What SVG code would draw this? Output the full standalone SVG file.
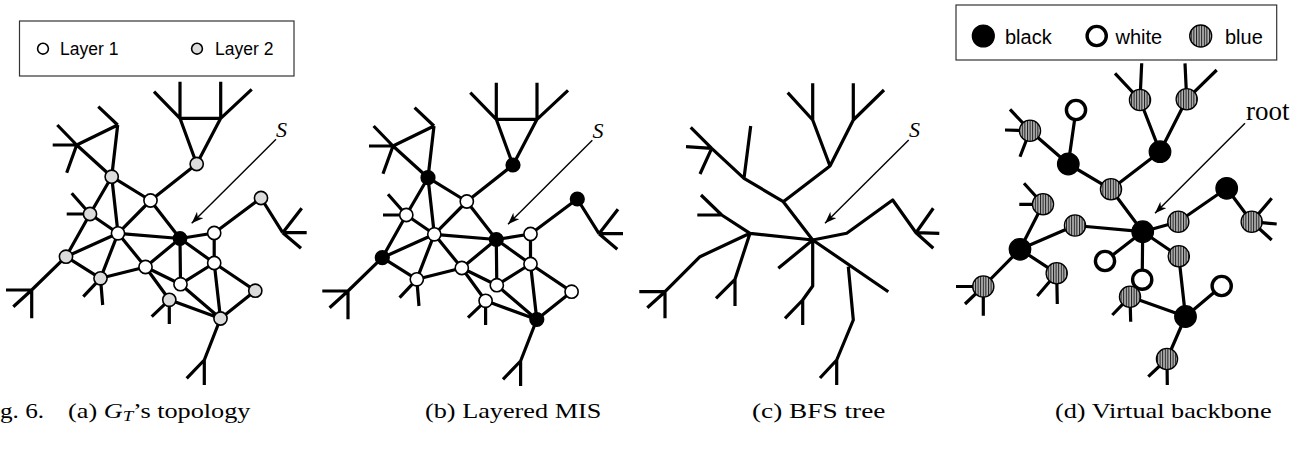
<svg xmlns="http://www.w3.org/2000/svg" width="1311" height="452" viewBox="0 0 1311 452">
<style>
.e{fill:none;stroke:#000;stroke-width:3.2;stroke-linejoin:round;stroke-linecap:butt}
.arr{fill:none;stroke:#000;stroke-width:1.4}
.w{fill:#fff;stroke:#000;stroke-width:1.6}
.g{fill:#dcdcdc;stroke:#000;stroke-width:1.6}
.k{fill:#000;stroke:#000;stroke-width:1.6}
.dk{fill:#000;stroke:#000;stroke-width:1.2}
.dw{fill:#fff;stroke:#000;stroke-width:3.4}
.db{fill:url(#stripes);stroke:#000;stroke-width:1.3}
.lg{fill:#fff;stroke:#333;stroke-width:1.2}
.ls{font-family:"Liberation Sans",Arial,sans-serif;fill:#000}
.cap{font-family:"Liberation Serif","Times New Roman",serif;font-size:21px;fill:#000}
.lab{font-family:"Liberation Serif","Times New Roman",serif;fill:#000}
</style>
<defs>
<pattern id="stripes" patternUnits="userSpaceOnUse" width="2.6" height="10">
<rect width="2.6" height="10" fill="#b4b4b4"/>
<rect width="1" height="10" fill="#1a1a1a"/>
</pattern>
<marker id="ah" markerUnits="userSpaceOnUse" markerWidth="14" markerHeight="10" refX="12" refY="4.5" orient="auto">
<path d="M0,0 L12,4.5 L0,9 L3.5,4.5 Z" fill="#000"/>
</marker>
</defs>
<rect width="1311" height="452" fill="#fff"/>

<!-- Panel (a) -->
<g id="legend-a">
<rect class="lg" x="19.5" y="21" width="274.5" height="55"/>
<circle class="w" cx="43" cy="48.7" r="5.4" stroke-width="2"/>
<text class="ls" x="60" y="55" font-size="17.5">Layer 1</text>
<circle class="g" cx="197" cy="48.7" r="5.4" stroke-width="2"/>
<text class="ls" x="215" y="55" font-size="17.5">Layer 2</text>
</g>
<g id="connectors-a">
<path class="e" d="M196.7,164 L150.5,200.5 M150.5,200.5 L111.7,176.7 M150.5,200.5 L118,233.3 M150.5,200.5 L180,238.5 M111.7,176.7 L118,233.3 M111.7,176.7 L90,214 M111.7,176.7 L76.7,145 M111.7,176.7 L117.7,125 M90,214 L118,233.3 M90,214 L66,256.7 M118,233.3 L66,256.7 M118,233.3 L100.5,278.3 M118,233.3 L145.5,267 M118,233.3 L180,238.5 M66,256.7 L100.5,278.3 M100.5,278.3 L145.5,267 M145.5,267 L180,238.5 M145.5,267 L180.5,284.2 M145.5,267 L169.3,299.8 M180,238.5 L180.5,284.2 M180,238.5 L214.2,263 M180,238.5 L214.2,233 M214.2,233 L214.2,263 M180.5,284.2 L214.2,263 M180.5,284.2 L220.5,318.5 M169.3,299.8 L220.5,318.5 M214.2,263 L220.5,318.5 M214.2,263 L255.3,290.7 M255.3,290.7 L220.5,318.5 M214.2,233 L261,198 M196.7,164 L180,118.3 L220.7,118.3 Z M180,118.3 L180,81.7 M180,118.3 L154,91.7 M220.7,118.3 L220.7,81.7 M220.7,118.3 L251.7,89.3 M117.7,125 L76.7,145 M117.7,125 L98.3,106.7 M76.7,145 L52.7,145 M76.7,145 L57.3,125 M76.7,145 L66.7,172.7 M90,214 L71.7,193.3 M90,214 L66.7,214 M66,256.7 L31.7,290 M31.7,290 L6,290 M31.7,290 L31.7,318.3 M31.7,290 L13.3,306.7 M100.5,278.3 L102.7,305 M100.5,278.3 L83.3,296.7 M169.3,299.8 L169.3,324 M169.3,299.8 L151.7,316.7 M220.5,318.5 L204.3,360 L204.3,385 M204.3,360 L186.7,378.3 M261,198 L282.7,232.7 M282.7,232.7 L301.7,208.3 M282.7,232.7 L306.7,232.7 M282.7,232.7 L301,248.3"/>
<line class="arr" x1="276" y1="139.3" x2="191.7" y2="223.3" marker-end="url(#ah)"/>
</g>
<g id="nodes-a">
<circle class="g" cx="196.7" cy="164" r="6.6"/>
<circle class="w" cx="150.5" cy="200.5" r="6.6"/>
<circle class="g" cx="111.7" cy="176.7" r="6.6"/>
<circle class="g" cx="90" cy="214" r="6.6"/>
<circle class="w" cx="118" cy="233.3" r="6.6"/>
<circle class="g" cx="66" cy="256.7" r="6.6"/>
<circle class="g" cx="100.5" cy="278.3" r="6.6"/>
<circle class="w" cx="145.5" cy="267" r="6.6"/>
<circle class="w" cx="180.5" cy="284.2" r="6.6"/>
<circle class="g" cx="169.3" cy="299.8" r="6.6"/>
<circle class="g" cx="220.5" cy="318.5" r="6.6"/>
<circle class="w" cx="214.2" cy="263" r="6.6"/>
<circle class="w" cx="214.2" cy="233" r="6.6"/>
<circle class="g" cx="261" cy="198" r="6.6"/>
<circle class="g" cx="255.3" cy="290.7" r="6.6"/>
<circle class="k" cx="180" cy="238.5" r="6.6"/>
</g>
<text class="lab" x="276" y="137" font-size="22" font-style="italic">S</text>

<!-- Panel (b) -->
<g id="connectors-b" transform="translate(316.3,1)">
<path class="e" d="M196.7,164 L150.5,200.5 M150.5,200.5 L111.7,176.7 M150.5,200.5 L118,233.3 M150.5,200.5 L180,238.5 M111.7,176.7 L118,233.3 M111.7,176.7 L90,214 M111.7,176.7 L76.7,145 M111.7,176.7 L117.7,125 M90,214 L118,233.3 M90,214 L66,256.7 M118,233.3 L66,256.7 M118,233.3 L100.5,278.3 M118,233.3 L145.5,267 M118,233.3 L180,238.5 M66,256.7 L100.5,278.3 M100.5,278.3 L145.5,267 M145.5,267 L180,238.5 M145.5,267 L180.5,284.2 M145.5,267 L169.3,299.8 M180,238.5 L180.5,284.2 M180,238.5 L214.2,263 M180,238.5 L214.2,233 M214.2,233 L214.2,263 M180.5,284.2 L214.2,263 M180.5,284.2 L220.5,318.5 M169.3,299.8 L220.5,318.5 M214.2,263 L220.5,318.5 M214.2,263 L255.3,290.7 M255.3,290.7 L220.5,318.5 M214.2,233 L261,198 M196.7,164 L180,118.3 L220.7,118.3 Z M180,118.3 L180,81.7 M180,118.3 L154,91.7 M220.7,118.3 L220.7,81.7 M220.7,118.3 L251.7,89.3 M117.7,125 L76.7,145 M117.7,125 L98.3,106.7 M76.7,145 L52.7,145 M76.7,145 L57.3,125 M76.7,145 L66.7,172.7 M90,214 L71.7,193.3 M90,214 L66.7,214 M66,256.7 L31.7,290 M31.7,290 L6,290 M31.7,290 L31.7,318.3 M31.7,290 L13.3,306.7 M100.5,278.3 L102.7,305 M100.5,278.3 L83.3,296.7 M169.3,299.8 L169.3,324 M169.3,299.8 L151.7,316.7 M220.5,318.5 L204.3,360 L204.3,385 M204.3,360 L186.7,378.3 M261,198 L282.7,232.7 M282.7,232.7 L301.7,208.3 M282.7,232.7 L306.7,232.7 M282.7,232.7 L301,248.3"/>
<line class="arr" x1="276" y1="139.3" x2="191.7" y2="223.3" marker-end="url(#ah)"/>
</g>
<g id="nodes-b" transform="translate(316.3,1)">
<circle class="k" cx="196.7" cy="164" r="6.8"/>
<circle class="w" cx="150.5" cy="200.5" r="6.6"/>
<circle class="k" cx="111.7" cy="176.7" r="6.8"/>
<circle class="w" cx="90" cy="214" r="6.6"/>
<circle class="w" cx="118" cy="233.3" r="6.6"/>
<circle class="k" cx="66" cy="256.7" r="6.8"/>
<circle class="w" cx="100.5" cy="278.3" r="6.6"/>
<circle class="w" cx="145.5" cy="267" r="6.6"/>
<circle class="w" cx="180.5" cy="284.2" r="6.6"/>
<circle class="w" cx="169.3" cy="299.8" r="6.6"/>
<circle class="k" cx="220.5" cy="318.5" r="6.8"/>
<circle class="w" cx="214.2" cy="263" r="6.6"/>
<circle class="w" cx="214.2" cy="233" r="6.6"/>
<circle class="k" cx="261" cy="198" r="6.8"/>
<circle class="w" cx="255.3" cy="290.7" r="6.6"/>
<circle class="k" cx="180" cy="238.5" r="6.8"/>
</g>
<text class="lab" x="592.5" y="138" font-size="22" font-style="italic">S</text>

<!-- Panel (c) -->
<g id="connectors-c">
<path class="e" d="M812.7,240 L783.3,201.7 L744,178.3 L711.7,148.3 L690.7,127.3 M744,178.3 L750.7,126 M711.7,148.3 L686,146.7 M711.7,148.3 L700,174 M783.3,201.7 L830,166 L812.7,120 L812.7,83.3 M812.7,120 L787.7,92.7 M830,166 L853.3,120 L853.3,83.3 M853.3,120 L884,90 M812.7,240 L750,233.3 L721.7,215 L701,195 M721.7,215 L697.3,215 M750,233.3 L700,256.7 L665,291.7 L639.3,291.7 M665,291.7 L665,318.3 M665,291.7 L647.3,307.7 M750,233.3 L735,279.3 L735,306 M735,279.3 L716,298.3 M812.7,240 L778.3,268.3 M812.7,240 L812.7,286 L802.7,300 L802.7,325 M802.7,300 L785,318.3 M812.7,240 L888.3,291.7 M848.3,266.7 L853.3,320 L836.7,360 L836.7,385 M836.7,360 L820,378 M812.7,240 L846.7,233.3 L892.7,200 L916,232.7 L933.3,208.3 M916,232.7 L939.3,233.3 M916,232.7 L933.3,248.3"/>
<line class="arr" x1="908.7" y1="140" x2="825" y2="223.3" marker-end="url(#ah)"/>
</g>
<text class="lab" x="909" y="137" font-size="22" font-style="italic">S</text>

<!-- Panel (d) -->
<g id="legend-d">
<rect class="lg" x="956" y="5" width="320.7" height="55"/>
<circle class="dk" cx="983.3" cy="36" r="11"/>
<text class="ls" x="1005" y="43.5" font-size="20">black</text>
<circle class="dw" cx="1096.7" cy="36" r="9.6"/>
<text class="ls" x="1115.5" y="43.5" font-size="20">white</text>
<circle class="db" cx="1200.7" cy="36" r="11"/>
<text class="ls" x="1225" y="43.5" font-size="20">blue</text>
</g>
<g id="connectors-d">
<path class="e" d="M1140,100 L1160,151.7 L1186.7,99.3 M1160,151.7 L1111,189.3 L1142.7,231.7 M1111,189.3 L1068.3,164 L1076,110 M1068.3,164 L1030,130.7 M1142.7,231.7 L1075,225.5 L1020,249.3 M1020,249.3 L1043,204.3 M1020,249.3 L1056.7,273.3 M1020,249.3 L983.3,286.5 M1142.7,231.7 L1105,261 M1142.7,231.7 L1142.2,279.7 M1142.7,231.7 L1178.3,221.7 L1226.7,188.3 L1251.7,221.7 M1142.7,231.7 L1178.8,256.3 L1185.5,316.5 M1185.5,316.5 L1221.7,286 M1185.5,316.5 L1130,296.7 M1185.5,316.5 L1167,359 M1140,100 L1141.7,63.3 M1140,100 L1115,73.3 M1186.7,99.3 L1185,63.3 M1186.7,99.3 L1216.7,70 M1030,130.7 L1010,109.3 M1030,130.7 L1005,130 M1030,130.7 L1020,156.7 M1043,204.3 L1024,183.3 M1043,204.3 L1019.3,204.3 M1056.7,273.3 L1057.3,304 M1056.7,273.3 L1037.3,296 M983.3,286.5 L956,286.5 M983.3,286.5 L965,304 M983.3,286.5 L983.3,315.7 M1130,296.7 L1130.7,321.7 M1130,296.7 L1112.3,315 M1167,359 L1167.3,385 M1167,359 L1148.3,376.7 M1251.7,221.7 L1271.7,198.3 M1251.7,221.7 L1276.7,224 M1251.7,221.7 L1271.7,240"/>
<line class="arr" x1="1245" y1="123.3" x2="1155" y2="213.3" marker-end="url(#ah)"/>
</g>
<g id="nodes-d">
<circle class="dw" cx="1076" cy="110" r="9.6"/>
<circle class="dw" cx="1105" cy="261" r="9.6"/>
<circle class="dw" cx="1142.2" cy="279.7" r="9.6"/>
<circle class="dw" cx="1221.7" cy="286" r="9.6"/>
<circle class="db" cx="1140" cy="100" r="10.6"/>
<circle class="db" cx="1186.7" cy="99.3" r="10.6"/>
<circle class="db" cx="1111" cy="189.3" r="10.6"/>
<circle class="db" cx="1030" cy="130.7" r="10.6"/>
<circle class="db" cx="1043" cy="204.3" r="10.6"/>
<circle class="db" cx="1075" cy="225.5" r="10.6"/>
<circle class="db" cx="1178.3" cy="221.7" r="10.6"/>
<circle class="db" cx="1251.7" cy="221.7" r="10.6"/>
<circle class="db" cx="1178.8" cy="256.3" r="10.6"/>
<circle class="db" cx="1056.7" cy="273.3" r="10.6"/>
<circle class="db" cx="983.3" cy="286.5" r="10.6"/>
<circle class="db" cx="1130" cy="296.7" r="10.6"/>
<circle class="db" cx="1167" cy="359" r="10.6"/>
<circle class="dk" cx="1142.7" cy="231.7" r="10.8"/>
<circle class="dk" cx="1160" cy="151.7" r="10.8"/>
<circle class="dk" cx="1068.3" cy="164" r="10.8"/>
<circle class="dk" cx="1020" cy="249.3" r="10.8"/>
<circle class="dk" cx="1226.7" cy="188.3" r="10.8"/>
<circle class="dk" cx="1185.5" cy="316.5" r="10.8"/>
</g>
<text class="lab" x="1246" y="120" font-size="27">root</text>

<!-- Caption -->
<g id="caption">
<text class="cap" transform="translate(0,418) scale(1.2,1)">g. 6.</text>
<text class="cap" transform="translate(68,418) scale(1.25,1)">(a) <tspan font-style="italic">G</tspan><tspan font-style="italic" font-size="15" dy="3">T</tspan><tspan dy="-3">’s topology</tspan></text>
<text class="cap" transform="translate(425,418) scale(1.25,1)">(b) Layered MIS</text>
<text class="cap" transform="translate(752,418) scale(1.3,1)">(c) BFS tree</text>
<text class="cap" transform="translate(1055,418) scale(1.25,1)">(d) Virtual backbone</text>
</g>
</svg>
